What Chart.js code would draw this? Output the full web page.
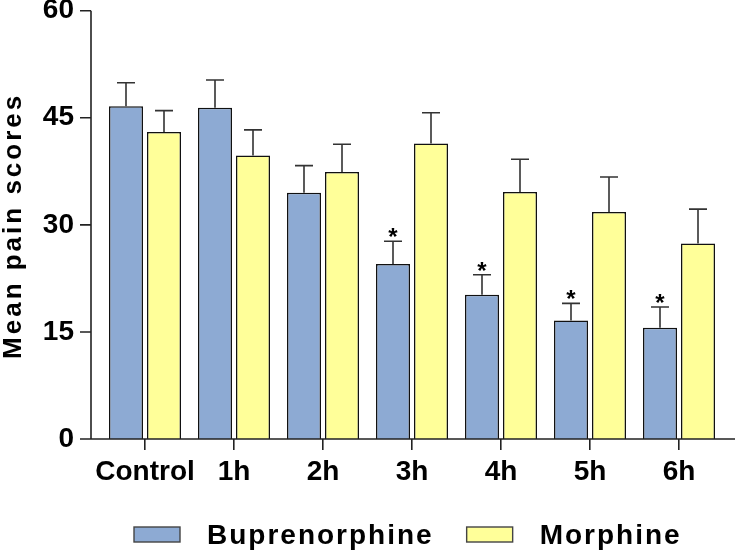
<!DOCTYPE html>
<html>
<head>
<meta charset="utf-8">
<script src="https://cdn.jsdelivr.net/npm/chart.js@4"></script>
<style>
  html, body { margin: 0; padding: 0; background: #fff; }
  #wrap { width: 735px; height: 551px; }
</style>
</head>
<body>
<div id="wrap"><canvas id="pain-chart" width="735" height="551"></canvas></div>
<script>
// data (mean + upper SEM)
const timepoints = ['Control', '1h', '2h', '3h', '4h', '5h', '6h'];
const buprenorphine = [46.6, 46.4, 34.5, 24.5, 20.2, 16.6, 15.6];
const buprenorphineErr = [3.3, 3.9, 3.8, 3.2, 2.8, 2.4, 2.9];
const morphine = [43.0, 39.7, 37.4, 41.4, 34.6, 31.8, 27.4];
const morphineErr = [3.0, 3.6, 3.9, 4.3, 4.6, 4.9, 4.8];
const significant = [false, false, false, true, true, true, true];
const yTicks = [0, 15, 30, 45, 60];

const FONT = '"Liberation Sans", Arial, Helvetica, sans-serif';
const AXIS = '#222';
const errors = [buprenorphineErr, morphineErr];

// GraphPad-style axes, error bars, stars, title and legend
const prismPlugin = {
  id: 'prism',
  afterDatasetsDraw(chart) {
    const ctx = chart.ctx, y = chart.scales.y;
    const y0 = y.getPixelForValue(0);
    const yTop = y.getPixelForValue(yTicks[yTicks.length - 1]);
    const axisX = chart.chartArea.left - 9.5;

    ctx.save();
    // error bars (upper only)
    ctx.strokeStyle = '#333';
    ctx.lineWidth = 1.6;
    chart.data.datasets.forEach((ds, di) => {
      chart.getDatasetMeta(di).data.forEach((bar, i) => {
        const top = y.getPixelForValue(ds.data[i] + errors[di][i]);
        ctx.beginPath();
        ctx.moveTo(bar.x, bar.y);
        ctx.lineTo(bar.x, top);
        ctx.moveTo(bar.x - 9, top);
        ctx.lineTo(bar.x + 9, top);
        ctx.stroke();
        if (di === 0 && significant[i]) {
          ctx.fillStyle = '#000';
          ctx.font = 'bold 24px ' + FONT;
          ctx.textAlign = 'center';
          ctx.textBaseline = 'alphabetic';
          ctx.fillText('*', bar.x, top + 4);
        }
      });
    });

    // axes
    ctx.strokeStyle = AXIS;
    ctx.lineWidth = 1.6;
    ctx.beginPath();
    ctx.moveTo(axisX, yTop);
    ctx.lineTo(axisX, y0);
    yTicks.forEach(v => {
      const p = y.getPixelForValue(v);
      ctx.moveTo(axisX - 11, p);
      ctx.lineTo(axisX, p);
    });
    ctx.moveTo(axisX - 11, y0);
    ctx.lineTo(chart.width, y0);
    ctx.stroke();
    ctx.restore();
  },
  afterDraw(chart) {
    const ctx = chart.ctx, y = chart.scales.y;
    ctx.save();
    // y title, letter-spaced
    ctx.translate(20.5, (y.top + y.bottom) / 2 + 1);
    ctx.rotate(-Math.PI / 2);
    ctx.font = 'bold 26px ' + FONT;
    ctx.letterSpacing = '3px';
    ctx.fillStyle = '#000';
    ctx.textAlign = 'center';
    ctx.textBaseline = 'alphabetic';
    ctx.fillText('Mean pain scores', 0, 0);
    ctx.restore();

    // legend
    ctx.save();
    const ly = chart.height - 16.5;
    let lx = chart.chartArea.left + 33.5;
    ctx.font = 'bold 28px ' + FONT;
    ctx.letterSpacing = '2px';
    ctx.textBaseline = 'alphabetic';
    ctx.textAlign = 'left';
    chart.data.datasets.forEach(ds => {
      ctx.fillStyle = ds.backgroundColor;
      ctx.fillRect(lx, ly - 7.5, 46, 15);
      ctx.strokeStyle = '#444';
      ctx.lineWidth = 1.4;
      ctx.strokeRect(lx, ly - 7.5, 46, 15);
      lx += 46 + 27;
      ctx.fillStyle = '#000';
      ctx.fillText(ds.label, lx, ly + 9.5);
      lx += ctx.measureText(ds.label).width + 33;
    });
    ctx.restore();
  }
};

new Chart(document.getElementById('pain-chart'), {
  type: 'bar',
  data: {
    labels: timepoints,
    datasets: [
      { label: 'Buprenorphine', data: buprenorphine, backgroundColor: '#8DAAD3', borderColor: '#111', borderWidth: 1.5 },
      { label: 'Morphine', data: morphine, backgroundColor: '#FFFF99', borderColor: '#111', borderWidth: 1.5 }
    ]
  },
  options: {
    responsive: false,
    animation: false,
    layout: { padding: { top: 10.7, right: 11.5, bottom: 62, left: 0 } },
    datasets: { bar: { barPercentage: 0.895, categoryPercentage: 0.854 } },
    plugins: { legend: { display: false }, tooltip: { enabled: false } },
    scales: {
      x: {
        offset: true,
        border: { display: false },
        grid: { display: true, drawOnChartArea: false, drawTicks: true, tickLength: 11, offset: false, color: AXIS, lineWidth: 1.6 },
        ticks: { color: '#000', font: { family: FONT, size: 28, weight: 'bold' }, padding: 5, autoSkip: false, maxRotation: 0, minRotation: 0 },
        afterFit(s) { s.height = 50; s.paddingLeft = 0; s.paddingRight = 0; }
      },
      y: {
        min: 0, max: 60,
        border: { display: false },
        grid: { display: false, drawTicks: false },
        ticks: { color: '#000', font: { family: FONT, size: 28, weight: 'bold' }, padding: 26.5 },
        afterBuildTicks(s) { s.ticks = yTicks.map(v => ({ value: v })); },
        afterFit(s) { s.width = 100.5; s.paddingTop = 0; s.paddingBottom = 0; }
      }
    }
  },
  plugins: [prismPlugin]
});
</script>
</body>
</html>
